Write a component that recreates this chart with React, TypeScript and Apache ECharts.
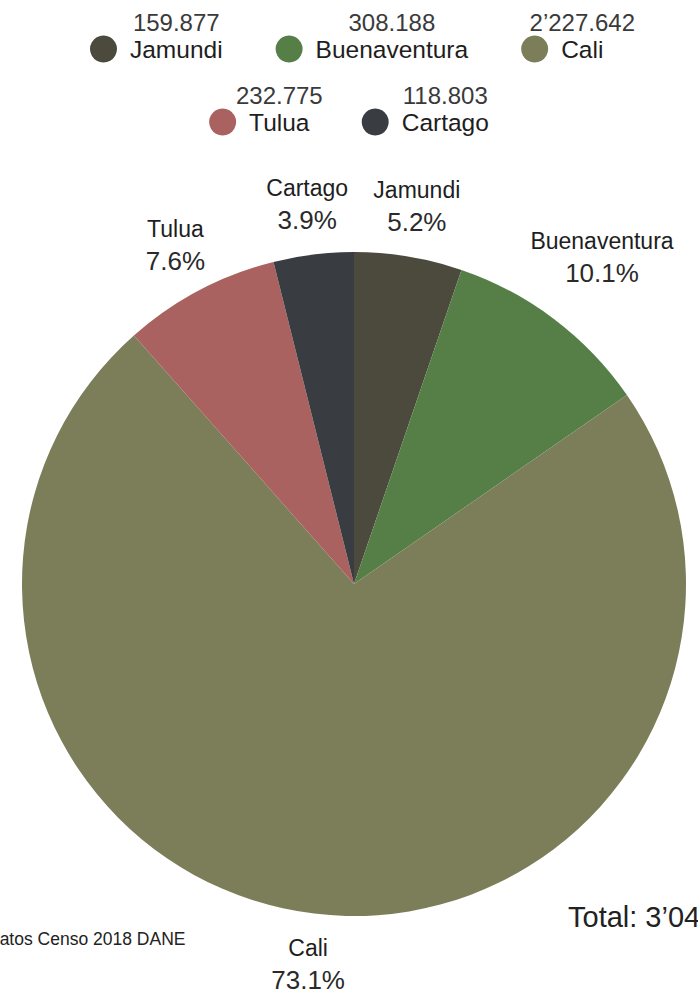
import React, { useEffect, useRef } from "react";
import * as echarts from "echarts";

const names = ["Jamundi", "Buenaventura", "Cali", "Tulua", "Cartago"];
const values = [159877, 308188, 2227642, 232775, 118803];
const valueLabels = ["159.877", "308.188", "2’227.642", "232.775", "118.803"];
const colors = ["#4b4a3d", "#567f48", "#7c7e5a", "#a9625f", "#393c40"];
const legendRow1 = ["Jamundi", "Buenaventura", "Cali"];
const legendRow2 = ["Tulua", "Cartago"];
const sourceText = "Datos Censo 2018 DANE";

const total = values.reduce((a, b) => a + b, 0);

function formatNumber(n: number): string {
  const s = String(n);
  const parts: string[] = [];
  let rest = s;
  while (rest.length > 3) {
    parts.unshift(rest.slice(-3));
    rest = rest.slice(0, -3);
  }
  parts.unshift(rest);
  if (parts.length === 3) return parts[0] + "’" + parts[1] + "." + parts[2];
  return parts.join(".");
}

const FONT = "'Liberation Sans', Arial, sans-serif";

export default function App() {
  const ref = useRef<HTMLDivElement>(null);
  useEffect(() => {
    if (!ref.current) return;
    const chart = echarts.init(ref.current, null, { renderer: "svg" });
    const legendText = {
      fontFamily: FONT,
      padding: [0, 0, 0, 8],
      rich: {
        v: { fontFamily: FONT, fontSize: 24, color: "#3a3a3a", lineHeight: 27, width: 0, align: "center" },
        n: { fontFamily: FONT, fontSize: 24.5, color: "#1e1e1e", lineHeight: 27, align: "center" },
        e: { fontFamily: FONT, fontSize: 24, lineHeight: 27, width: 0, align: "center" },
      },
    };
    const legendFormatter = (name: string) => {
      const i = names.indexOf(name);
      return `{v|${valueLabels[i]}}\n{n|${name}}\n{e| }`;
    };
    const data = names.map((n, i) => ({ name: n, value: values[i], itemStyle: { color: colors[i] } }));
    const legendBase = {
      icon: "circle",
      itemWidth: 27,
      itemHeight: 27,
      padding: 0,
      selectedMode: false,
      formatter: legendFormatter,
      textStyle: legendText,
    };
    chart.setOption({
      animation: false,
      legend: [
        { ...legendBase, data: legendRow1, left: 90, top: 10, itemGap: 53 },
        { ...legendBase, data: legendRow2, left: "center", top: 83, itemGap: 39 },
      ],
      series: [
        {
          type: "pie",
          center: [354, 584],
          radius: 332,
          startAngle: 90,
          clockwise: true,
          silent: true,
          label: { show: false },
          labelLine: { show: false },
          emphasis: { disabled: true },
          data,
        },
        {
          type: "pie",
          name: "labels",
          center: [354, 584],
          radius: [360, 400],
          startAngle: 90,
          clockwise: true,
          silent: true,
          avoidLabelOverlap: false,
          itemStyle: { color: "rgba(0,0,0,0)" },
          emphasis: { disabled: true },
          labelLine: { show: false },
          label: {
            show: true,
            position: "inside",
            color: "#222",
            formatter: (p: any) => {
              const pct = ((values[p.dataIndex] / total) * 100).toFixed(1);
              return `{n|${p.name}}\n{p|${pct}%}`;
            },
            rich: {
              n: { fontFamily: FONT, fontSize: 23, color: "#1e1e1e", lineHeight: 32, align: "center" },
              p: { fontFamily: FONT, fontSize: 26, color: "#2a2a2a", lineHeight: 32, align: "center" },
            },
          },
          labelLayout: (params: any) =>
            params.dataIndex === 1 ? { dx: 17, dy: -21 } : {},
          data: names.map((n, i) => ({ name: n, value: values[i] })),
        },
      ],
      graphic: [
        {
          type: "text",
          left: -13,
          top: 930,
          silent: true,
          style: { text: sourceText, fontFamily: FONT, fontSize: 17.5, fill: "#222" },
        },
        {
          type: "text",
          left: 568,
          top: 902,
          silent: true,
          style: { text: "Total: " + formatNumber(total), fontFamily: FONT, fontSize: 29, fill: "#222" },
        },
      ],
    });
    return () => chart.dispose();
  }, []);
  return (
    <div
      ref={ref}
      style={{ position: "fixed", left: 0, top: 0, width: 698, height: 998, background: "#fff" }}
    />
  );
}
